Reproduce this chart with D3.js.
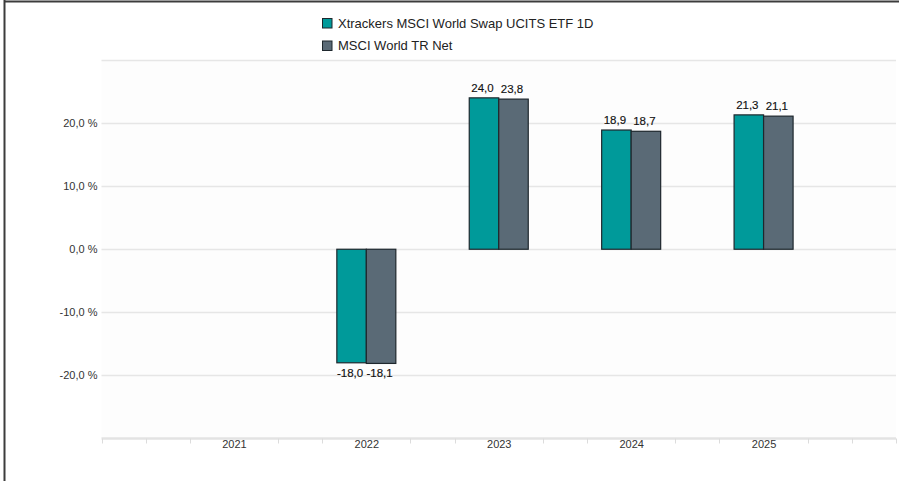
<!DOCTYPE html>
<html>
<head>
<meta charset="utf-8">
<script src="https://cdn.jsdelivr.net/npm/d3@7/dist/d3.min.js"></script>
<style>
html,body{margin:0;padding:0;background:#fff;}
svg{display:block;font-family:"Liberation Sans",Arial,sans-serif;}
</style>
</head>
<body>
<svg id="chart" width="899" height="481"></svg>
<script>
const categories = ["2021", "2022", "2023", "2024", "2025"];
const seriesNames = ["Xtrackers MSCI World Swap UCITS ETF 1D", "MSCI World TR Net"];
const fundValues = [null, -18.0, 24.0, 18.9, 21.3];
const indexValues = [null, -18.1, 23.8, 18.7, 21.1];
const yTicks = [-20, -10, 0, 10, 20];
const colors = ["#009a9a", "#5a6a76"];

const svg = d3.select("#chart");
const pLeft = 101.5, pRight = 896, pTop = 60, pBottom = 438.5;

const x = d3.scaleLinear().domain([0, 6]).range([pLeft, pRight]);
const y = d3.scaleLinear().domain([-30, 30]).range([pBottom, pTop]);
const fmt = v => d3.format(".1f")(v).replace(".", ",").replace("\u2212", "-");

// plot background
svg.append("rect").attr("x", pLeft).attr("y", pTop).attr("width", pRight - pLeft).attr("height", pBottom - pTop).attr("fill", "#fdfdfd");

// gridlines
const gridVals = yTicks.concat([30]);
svg.append("g").selectAll("line").data(gridVals).join("line")
  .attr("x1", pLeft).attr("x2", pRight)
  .attr("y1", d => Math.round(y(d)) + 0.5).attr("y2", d => Math.round(y(d)) + 0.5)
  .attr("stroke", "#e6e6e6").attr("stroke-width", 1.5);

// y axis labels
const yAxis = d3.axisLeft(y).tickValues(yTicks).tickSize(0).tickPadding(0)
  .tickFormat(d => fmt(d) + " %");
const yg = svg.append("g").attr("transform", `translate(${pLeft - 4},0)`).call(yAxis);
yg.select(".domain").remove();
yg.selectAll("text").attr("font-size", 11).attr("fill", "#333").attr("font-family", "Liberation Sans, Arial, sans-serif");

// x axis line
svg.append("line").attr("x1", pLeft).attr("x2", pRight).attr("y1", pBottom).attr("y2", pBottom)
  .attr("stroke", "#e3e3e3").attr("stroke-width", 2.5);

// x ticks
const tickPos = d3.range(0, 19).filter(k => k % 3 !== 0 || k === 0 || k === 18).map(k => k / 3);
svg.append("g").selectAll("line").data(tickPos).join("line")
  .attr("x1", d => Math.round(x(d)) + 0.5).attr("x2", d => Math.round(x(d)) + 0.5)
  .attr("y1", pBottom).attr("y2", pBottom + 5)
  .attr("stroke", "#dcdcdc").attr("stroke-width", 1);

// x labels
const xAxis = d3.axisBottom(x).tickValues(d3.range(1, 6)).tickSize(0).tickPadding(0)
  .tickFormat(d => categories[d - 1]);
const xg = svg.append("g").attr("transform", `translate(0,${pBottom + 2})`).call(xAxis);
xg.select(".domain").remove();
xg.selectAll("text").attr("font-size", 11).attr("fill", "#333").attr("dy", "0.71em").attr("font-family", "Liberation Sans, Arial, sans-serif");

// bars
const barW = 29.5 / ((pRight - pLeft) / 6);
const data = [];
categories.forEach((c, i) => {
  [fundValues, indexValues].forEach((arr, s) => {
    const v = arr[i];
    if (v === null || v === undefined) return;
    data.push({ i: i + 1, s, v });
  });
});

const bars = svg.append("g");
bars.selectAll("rect").data(data).join("rect")
  .attr("x", d => x(d.i - barW + d.s * barW))
  .attr("width", d => x(barW) - x(0))
  .attr("y", d => y(Math.max(0, d.v)))
  .attr("height", d => Math.abs(y(d.v) - y(0)))
  .attr("fill", d => colors[d.s])
  .attr("stroke", "#1e272d").attr("stroke-width", 1.2);

// data labels
svg.append("g").selectAll("text").data(data).join("text")
  .attr("x", d => x(d.i - barW + d.s * barW + barW / 2) - 1.5)
  .attr("y", d => d.v >= 0 ? y(d.v) - 6 : y(d.v) + 14)
  .attr("text-anchor", "middle")
  .attr("font-size", 11.5).attr("fill", "#111")
  .attr("stroke", "#111").attr("stroke-width", 0.15)
  .text(d => fmt(d.v));

// legend
const lg = svg.append("g");
seriesNames.forEach((name, s) => {
  const ly = 18 + s * 22.5;
  lg.append("rect").attr("x", 322.5).attr("y", ly + 0.5).attr("width", 9.5).attr("height", 9.5)
    .attr("fill", colors[s]).attr("stroke", "#1e272d").attr("stroke-width", 1);
  lg.append("text").attr("x", 338).attr("y", ly + 9.5).attr("font-size", 13).attr("fill", "#222").text(name);
});

// frame
svg.append("line").attr("x1", 4.5).attr("x2", 4.5).attr("y1", 0).attr("y2", 481).attr("stroke", "#3c3c3c").attr("stroke-width", 2);
svg.append("line").attr("x1", 4).attr("x2", 899).attr("y1", 1.5).attr("y2", 1.5).attr("stroke", "#3c3c3c").attr("stroke-width", 2);
</script>
</body>
</html>
